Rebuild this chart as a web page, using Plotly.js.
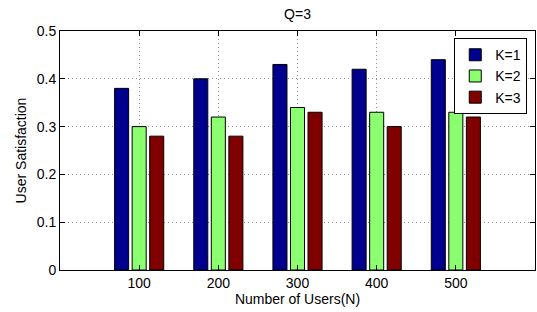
<!DOCTYPE html>
<html><head><meta charset="utf-8">
<script src="https://cdn.plot.ly/plotly-3.0.1.min.js"></script>
<style>html,body{margin:0;padding:0;background:#fff}#c{width:537px;height:312px}</style>
</head><body><div id="c"></div>
<script>
const users = [100, 200, 300, 400, 500];
const seriesNames = ["K=1", "K=2", "K=3"];
const k1 = [0.38, 0.40, 0.43, 0.42, 0.44];
const k2 = [0.30, 0.32, 0.34, 0.33, 0.33];
const k3 = [0.28, 0.28, 0.33, 0.30, 0.32];
const colors = ["#00008F", "#8CFF70", "#800000"];
const yTicks = [0, 0.1, 0.2, 0.3, 0.4, 0.5];
const yTickText = ["0", "0.1", "0.2", "0.3", "0.4", "0.5"];

const traces = [k1, k2, k3].map((v, i) => ({
  type: "bar", x: users, y: v, name: seriesNames[i],
  marker: {color: colors[i], line: {color: "#000", width: 1}}
}));

const font = {family: "Liberation Sans, Arial, sans-serif", size: 14, color: "#000"};
const layout = {
  width: 537, height: 312,
  margin: {l: 60, r: 2, t: 31, b: 42},
  paper_bgcolor: "#fff", plot_bgcolor: "#fff",
  font: font,
  barmode: "group", bargap: 0.335, bargroupgap: 0.2,
  title: {text: "Q=3", font: {family: font.family, size: 14, color: "#000"}, x: 0.5 * (60 + 535) / 537, xanchor: "center", y: 0.955, yanchor: "middle"},
  xaxis: {
    range: [0, 600], tickvals: users, ticktext: users.map(String),
    showgrid: true, gridcolor: "#909090", griddash: "1px,3px", gridwidth: 1,
    showline: true, linecolor: "#000", linewidth: 1, mirror: "ticks",
    ticks: "inside", ticklen: 5, tickcolor: "#000", zeroline: false,
    title: {text: "Number of Users(N)", font: font, standoff: 1},
    tickfont: font
  },
  yaxis: {
    range: [0, 0.5], tickvals: yTicks, ticktext: yTickText,
    showgrid: true, gridcolor: "#909090", griddash: "1px,3px", gridwidth: 1,
    showline: true, linecolor: "#000", linewidth: 1, mirror: "ticks",
    ticks: "inside", ticklen: 5, tickcolor: "#000", zeroline: false,
    title: {text: "User Satisfaction", font: font, standoff: 6},
    tickfont: font
  },
  legend: {
    x: 0.83, y: 0.97, xanchor: "left", yanchor: "top",
    bgcolor: "#fff", bordercolor: "#000", borderwidth: 1,
    font: {family: font.family, size: 14, color: "#000"},
    tracegroupgap: 0, itemwidth: 30
  },
  showlegend: true
};
Plotly.newPlot("c", traces, layout, {staticPlot: true, displayModeBar: false});
</script></body></html>
